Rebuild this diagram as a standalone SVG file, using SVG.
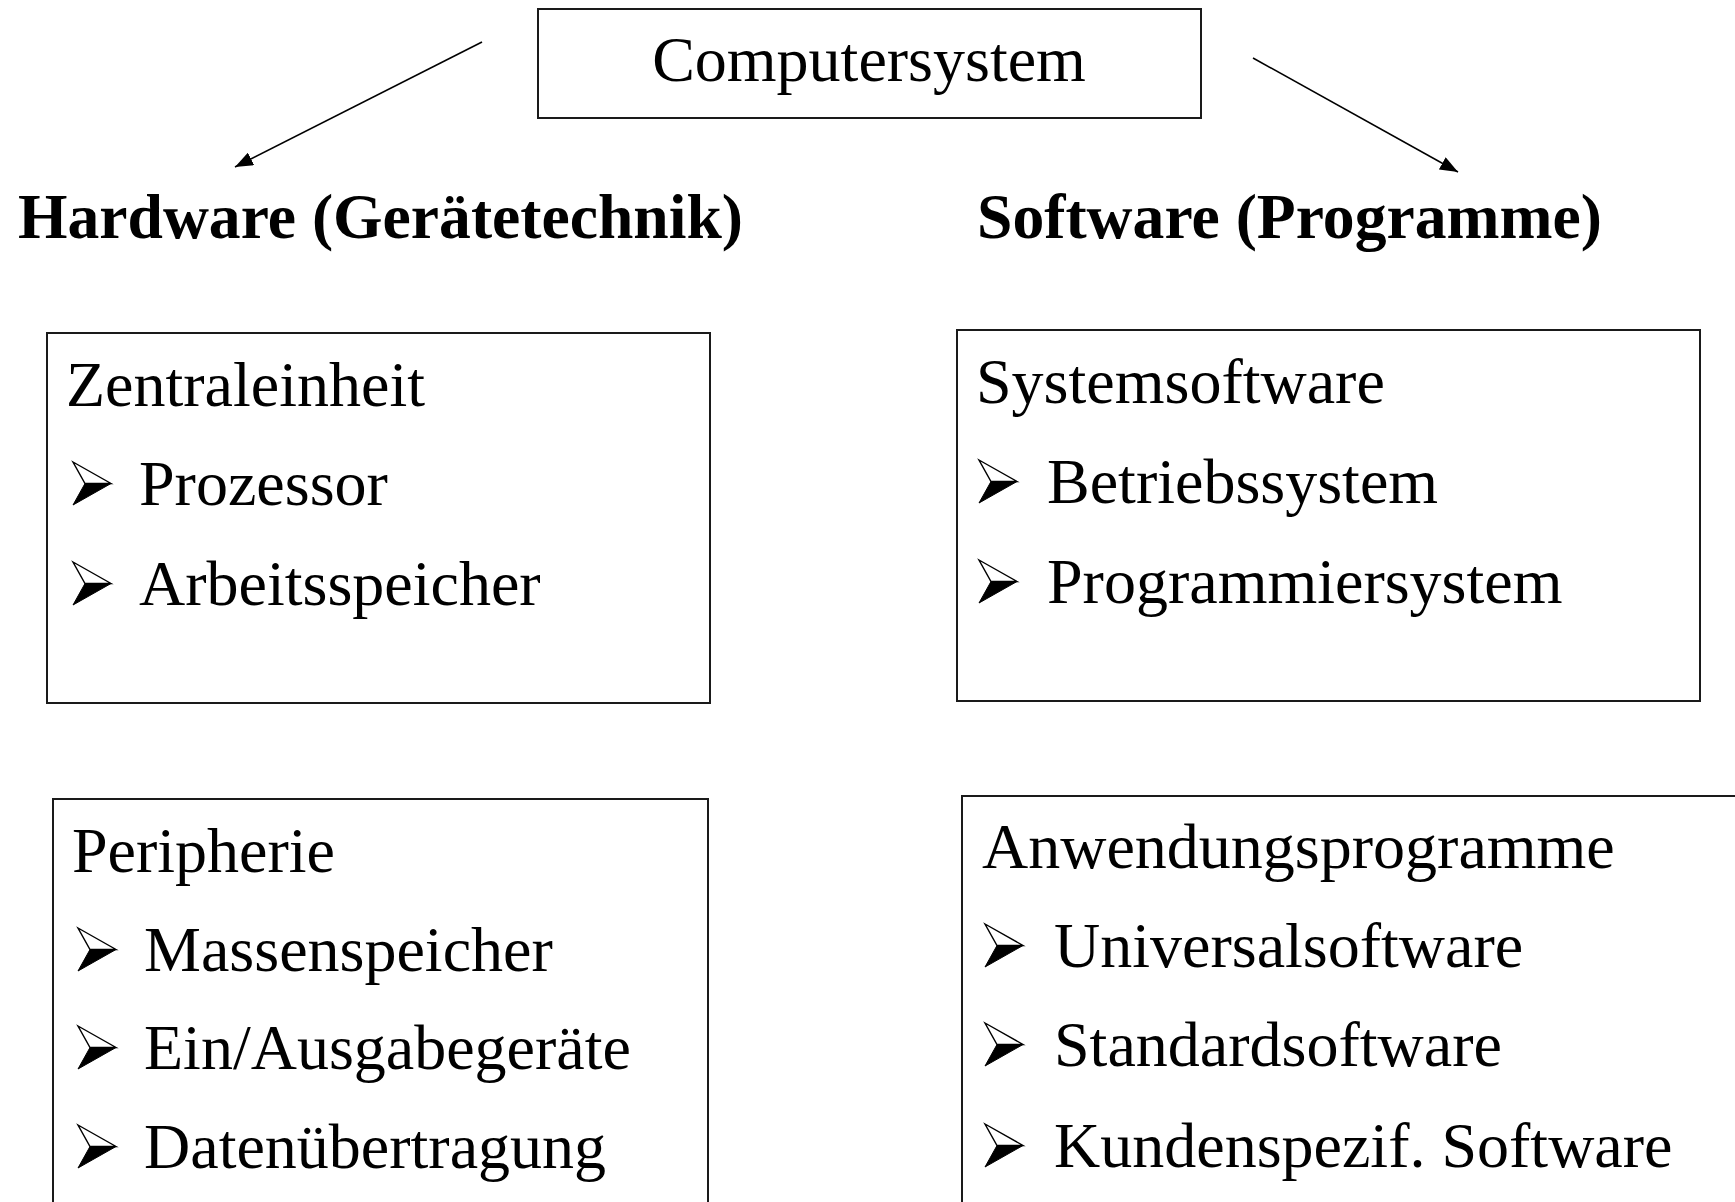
<svg xmlns="http://www.w3.org/2000/svg" width="1735" height="1202" viewBox="0 0 1735 1202">
  <style>
    .box { fill: #ffffff; stroke: #1a1a1a; stroke-width: 2; }
    .t { font-family: "Liberation Serif", "Times New Roman", serif; font-size: 64px; fill: #000; }
    .b { font-weight: bold; }
    .conn { stroke: #000; stroke-width: 1.6; fill: none; }
  </style>
  <defs>
    <marker id="head" markerUnits="userSpaceOnUse" markerWidth="20" markerHeight="14" refX="18" refY="7" orient="auto">
      <path d="M0,0 L18,7 L0,14 Z" fill="#000"/>
    </marker>
    <!-- 3D arrowhead bullet: upper half outlined, lower half filled; origin at bottom-left -->
    <g id="bullet">
      <path d="M0,-43 L38,-21.5 L12,-21.5 Z" fill="#fff" stroke="#000" stroke-width="1.4" stroke-linejoin="miter"/>
      <path d="M12,-21.5 L38,-21.5 L0,0 Z" fill="#000" stroke="#000" stroke-width="1"/>
    </g>
  </defs>

  <rect width="1735" height="1202" fill="#ffffff"/>

  <g id="computersystem">
    <rect class="box" x="538" y="9" width="663" height="109"/>
    <text class="t" x="869" y="81" text-anchor="middle">Computersystem</text>
  </g>

  <g id="hardware">
    <text class="t b" x="18" y="238" textLength="725" lengthAdjust="spacingAndGlyphs">Hardware (Gerätetechnik)</text>
  </g>

  <g id="software">
    <text class="t b" x="977" y="238" textLength="625" lengthAdjust="spacingAndGlyphs">Software (Programme)</text>
  </g>

  <g id="connectors">
    <line class="conn" x1="482" y1="42" x2="235" y2="167" marker-end="url(#head)"/>
    <line class="conn" x1="1253" y1="58" x2="1458" y2="172" marker-end="url(#head)"/>
  </g>

  <g id="zentraleinheit">
    <rect class="box" x="47" y="333" width="663" height="370"/>
    <text class="t" x="66" y="406">Zentraleinheit</text>
    <use href="#bullet" x="73" y="505"/>
    <text class="t" x="139" y="505">Prozessor</text>
    <use href="#bullet" x="73" y="605"/>
    <text class="t" x="139" y="605">Arbeitsspeicher</text>
  </g>

  <g id="systemsoftware">
    <rect class="box" x="957" y="330" width="743" height="371"/>
    <text class="t" x="976" y="403">Systemsoftware</text>
    <use href="#bullet" x="979" y="503"/>
    <text class="t" x="1047" y="503">Betriebssystem</text>
    <use href="#bullet" x="979" y="603"/>
    <text class="t" x="1047" y="603">Programmiersystem</text>
  </g>

  <g id="peripherie">
    <rect class="box" x="53" y="799" width="655" height="420"/>
    <text class="t" x="72" y="872">Peripherie</text>
    <use href="#bullet" x="78" y="971"/>
    <text class="t" x="144" y="971">Massenspeicher</text>
    <use href="#bullet" x="78" y="1069"/>
    <text class="t" x="144" y="1069">Ein/Ausgabegeräte</text>
    <use href="#bullet" x="78" y="1168"/>
    <text class="t" x="144" y="1168">Datenübertragung</text>
  </g>

  <g id="anwendungsprogramme">
    <rect class="box" x="962" y="796" width="800" height="420"/>
    <text class="t" x="982" y="868">Anwendungsprogramme</text>
    <use href="#bullet" x="985" y="967"/>
    <text class="t" x="1054" y="967">Universalsoftware</text>
    <use href="#bullet" x="985" y="1066"/>
    <text class="t" x="1054" y="1066">Standardsoftware</text>
    <use href="#bullet" x="985" y="1167"/>
    <text class="t" x="1054" y="1167">Kundenspezif. Software</text>
  </g>
</svg>
